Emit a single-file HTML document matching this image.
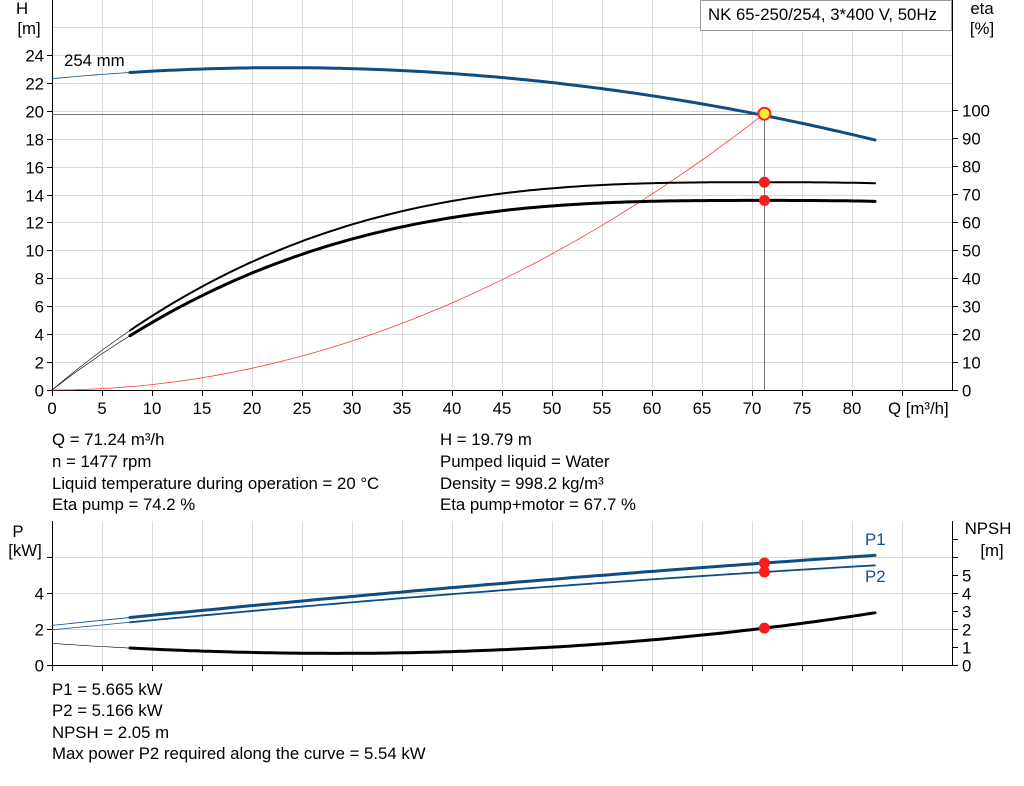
<!DOCTYPE html>
<html><head><meta charset="utf-8"><style>
body{margin:0;background:#fff}
svg text{font-family:"Liberation Sans",sans-serif;font-size:16.8px;fill:#000}
</style></head><body>
<svg id="s" width="1024" height="781" xmlns="http://www.w3.org/2000/svg">
<rect width="1024" height="781" fill="#fff"/>
<g id="grid" stroke="#d9d9d9" stroke-width="1"></g>
<g id="ax" stroke="#000" stroke-width="1"></g>
<g id="lab"></g>
<g id="curves" fill="none"></g>
<rect x="700.5" y="0.5" width="251" height="30" fill="#fff" stroke="#999"/>
<text x="708" y="20">NK 65-250/254, 3*400 V, 50Hz</text>
<text x="22" y="14" text-anchor="middle">H</text>
<text x="29" y="34" text-anchor="middle">[m]</text>
<text x="982" y="14" text-anchor="middle">eta</text>
<text x="982" y="34" text-anchor="middle">[%]</text>
<text x="64" y="66">254 mm</text>
<text x="888" y="414">Q [m³/h]</text>
<text x="18" y="537" text-anchor="middle">P</text>
<text x="25" y="556" text-anchor="middle">[kW]</text>
<text x="988" y="534" text-anchor="middle">NPSH</text>
<text x="992" y="556" text-anchor="middle">[m]</text>
<text x="865" y="545" style="fill:#1a4f8a">P1</text>
<text x="865" y="582" style="fill:#1a4f8a">P2</text>
<text x="52" y="445">Q = 71.24 m³/h</text>
<text x="52" y="467">n = 1477 rpm</text>
<text x="52" y="489">Liquid temperature during operation = 20 °C</text>
<text x="52" y="510">Eta pump = 74.2 %</text>
<text x="440" y="445">H = 19.79 m</text>
<text x="440" y="467">Pumped liquid = Water</text>
<text x="440" y="489">Density = 998.2 kg/m³</text>
<text x="440" y="510">Eta pump+motor = 67.7 %</text>
<text x="52" y="695">P1 = 5.665 kW</text>
<text x="52" y="716">P2 = 5.166 kW</text>
<text x="52" y="738">NPSH = 2.05 m</text>
<text x="52" y="759">Max power P2 required along the curve = 5.54 kW</text>
<g id="mk"></g>
</svg>
<script>
var NS="http://www.w3.org/2000/svg";
function el(p,t,a,txt){var e=document.createElementNS(NS,t);for(var k in a)e.setAttribute(k,a[k]);if(txt!==undefined)e.textContent=txt;document.getElementById(p).appendChild(e);return e;}
function X(q){return 52+10*q;}
function YH(h){return 390-h*13.96;}
function YE(e){return 390-e*2.8;}
function YP(p){return 665-p*18;}
for(var q=5;q<=90;q+=5){el('grid','line',{x1:X(q)+.5,y1:0,x2:X(q)+.5,y2:390});el('grid','line',{x1:X(q)+.5,y1:521,x2:X(q)+.5,y2:665});}
for(var h=2;h<=26;h+=2){var y=Math.round(YH(h))+.5;el('grid','line',{x1:52,y1:y,x2:952,y2:y});}
[2,4,6].forEach(function(p){var y=YP(p)+.5;el('grid','line',{x1:52,y1:y,x2:952,y2:y});});
el('ax','line',{x1:52.5,y1:0,x2:52.5,y2:391});el('ax','line',{x1:52,y1:390.5,x2:952,y2:390.5});
el('ax','line',{x1:952.5,y1:0,x2:952.5,y2:391});
el('ax','line',{x1:52.5,y1:521,x2:52.5,y2:666});el('ax','line',{x1:52,y1:665.5,x2:952,y2:665.5});
el('ax','line',{x1:952.5,y1:521,x2:952.5,y2:666});
for(var h=0;h<=24;h+=2){var y=Math.round(YH(h))+.5;el('ax','line',{x1:47,y1:y,x2:52,y2:y});el('lab','text',{x:44,y:y+6,'text-anchor':'end'},h);}
for(var e=0;e<=100;e+=10){var y=Math.round(YE(e))+.5;el('ax','line',{x1:952,y1:y,x2:958,y2:y});el('lab','text',{x:962,y:y+6},e);}
for(var q=0;q<=85;q+=5){el('ax','line',{x1:X(q)+.5,y1:390,x2:X(q)+.5,y2:396});if(q<=80)el('lab','text',{x:X(q),y:414,'text-anchor':'middle'},q);}
for(var p=0;p<=6;p+=2){var y=YP(p)+.5;el('ax','line',{x1:47,y1:y,x2:52,y2:y});if(p<6)el('lab','text',{x:44,y:y+6,'text-anchor':'end'},p);}
for(var n=0;n<=7;n++){var y=YP(n)+.5;el('ax','line',{x1:952,y1:y,x2:958,y2:y});if(n<=5)el('lab','text',{x:962,y:y+6},n);}
for(var q=0;q<=85;q+=5){el('ax','line',{x1:X(q)+.5,y1:665,x2:X(q)+.5,y2:671});}
function path(f,y,a,b,col,w){var d="";for(var q=a;q<=b+1e-9;q+=0.5){d+=(d?"L":"M")+X(q).toFixed(1)+","+y(f(q)).toFixed(1);}el('curves','path',{d:d,stroke:col,'stroke-width':w,'stroke-linecap':'round'});}
var H=function(q){return 22.3+0.0684*q-0.00148*q*q;};
var E1=function(q){var t=1-q/71;return 74.2*(1-Math.pow(Math.abs(t),2.9));};
var E2=function(q){var t=1-q/71;return 67.7*(1-Math.pow(Math.abs(t),2.9));};
var S=function(q){return 19.79*Math.pow(q/71.24,2);};
var P1=function(q){return 2.2+0.0573*q-0.0001216*q*q;};
var P2=function(q){return 1.95+0.0554*q-0.000144*q*q;};
var N=function(q){return 1.2-0.038*q+0.00062*q*q+1.13e-6*q*q*q;};
var B="#0f4c81";
el('curves','path',{d:"M52,114.5H764.5V390",stroke:"#777",'stroke-width':1});
path(S,YH,0,71.24,"#ff3b3b",0.8);
path(H,YH,0,8,B,0.8);path(H,YH,7.8,82.5,B,3);
path(E1,YE,0,8,"#000",0.6);path(E1,YE,7.8,82.5,"#000",2);
path(E2,YE,0,8,"#000",0.6);path(E2,YE,7.8,82.5,"#000",3);
path(P1,YP,0,8,B,0.8);path(P1,YP,7.8,82.5,B,3);
path(P2,YP,0,8,B,0.8);path(P2,YP,7.8,82.5,B,1.8);
path(N,YP,0,8,"#000",0.6);path(N,YP,7.8,82.5,"#000",3);
var qx=X(71.24);
el('mk','circle',{cx:qx,cy:YH(19.79),r:6,fill:"#ffef3a",stroke:"#ff2020",'stroke-width':2});
[YE(74.2),YE(67.7),YP(5.665),YP(5.166),YP(2.05)].forEach(function(y){el('mk','circle',{cx:qx,cy:y,r:5.5,fill:"#ff1a1a"});});
</script>
</body></html>
